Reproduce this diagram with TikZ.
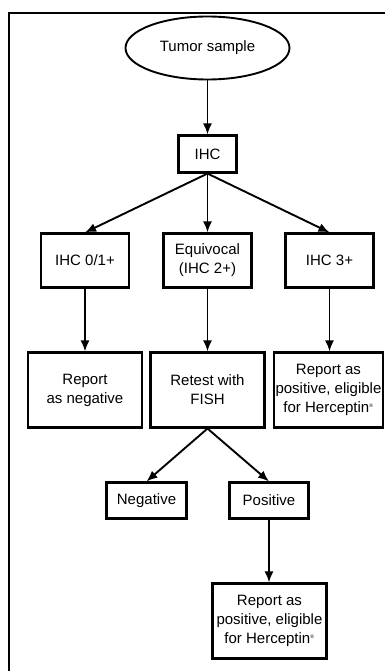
\documentclass[tikz,border=0pt]{standalone}
\usepackage{fontspec}
\setmainfont{Liberation Sans}
\usetikzlibrary{shapes.geometric,arrows.meta}
\begin{document}
\begin{tikzpicture}[x=1pt,y=-1pt,
  every node/.style={font=\fontsize{15}{19}\selectfont},
  box/.style={draw,line width=2.1pt,rectangle,align=center,inner sep=0pt},
  conn/.style={line width=1.9pt,-{Latex[length=11pt,width=9pt]}}]
\useasboundingbox (0,0) rectangle (384,671);
\fill[white] (0,0) rectangle (384,671);
\draw[line width=2.8pt] (9,680) -- (9,13) -- (390,13);

\node[draw,ellipse,line width=1.9pt,inner sep=0pt,minimum width=164,minimum height=63] (ts) at (207.5,48) {Tumor sample};
\node[box,minimum width=58,minimum height=37] (ihc) at (207.5,154) {IHC};

\node[box,minimum width=88,minimum height=54] (a) at (85,260.5) {IHC 0/1+};
\node[box,minimum width=88,minimum height=54] (b) at (207.5,260.5) {Equivocal\\(IHC 2+)};
\node[box,minimum width=88,minimum height=54] (c) at (329.5,260.5) {IHC 3+};

\node[box,minimum width=114,minimum height=75] (ra) at (85,390) {Report\\as negative};
\node[box,minimum width=114,minimum height=75] (rb) at (207.5,390) {Retest with\\FISH};
\node[box,minimum width=109,minimum height=75] (rc) at (328.5,390) {Report as\\positive, eligible\\for Herceptin\textsuperscript{\tiny ®}};

\node[box,minimum width=80,minimum height=36] (neg) at (146.5,500.5) {Negative};
\node[box,minimum width=79,minimum height=36] (pos) at (269,500.5) {Positive};

\node[box,minimum width=114,minimum height=75] (fin) at (269.5,621) {Report as\\positive, eligible\\for Herceptin\textsuperscript{\tiny ®}};

\draw[conn] (ts) -- (ihc);
\draw[conn] (ihc.south) -- (a.north);
\draw[conn] (ihc.south) -- (b.north);
\draw[conn] (ihc.south) -- (c.north);
\draw[conn] (a.south) -- (a.south |- ra.north);
\draw[conn] (b) -- (rb);
\draw[conn] (c.south) -- (c.south |- rc.north);
\draw[conn] (rb.south) -- (neg.north);
\draw[conn] (rb.south) -- (pos.north);
\draw[conn] (pos.south) -- (pos.south |- fin.north);
\end{tikzpicture}
\end{document}
